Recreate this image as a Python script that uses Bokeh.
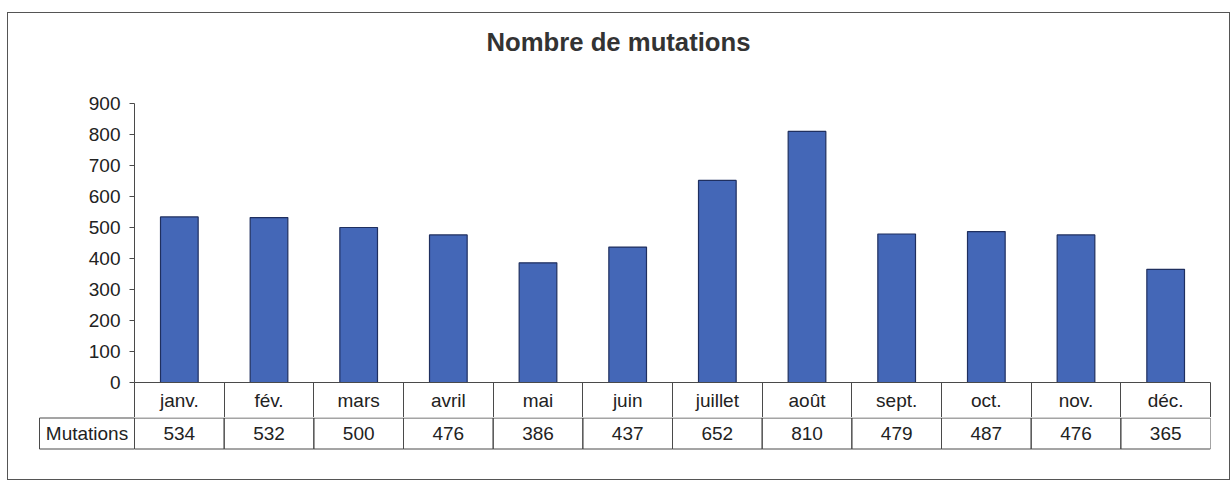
from bokeh.plotting import figure
from bokeh.layouts import column
from bokeh.models import Range1d, FixedTicker, ColumnDataSource
from bokeh.core.properties import value
from bokeh.embed import file_html
from bokeh.resources import INLINE

# ---- data ----
title_text = "Nombre de mutations"
months = ["janv.", "fév.", "mars", "avril", "mai", "juin",
          "juillet", "août", "sept.", "oct.", "nov.", "déc."]
mutations = [534, 532, 500, 476, 386, 437, 652, 810, 479, 487, 476, 365]
series_name = "Mutations"
y_ticks = [0, 100, 200, 300, 400, 500, 600, 700, 800, 900]

# ---- layout constants (px, relative to the bordered box content) ----
FONT = "Liberation Sans"
TXT = "#222222"
LINE = "#4a4a4a"
W = 1221
TITLE_H = 80
P1_TOP, FRAME_H, CAT_ROW = 10, 279, 35
VAL_ROW = 31
P2_H = 62
FRAME_L, FRAME_R = 126, 1202
HEADER_L = 31

n = len(months)
idx = list(range(n))
ppu = (FRAME_R - FRAME_L) / n

# ---- bars ----
p1 = figure(width=W, height=P1_TOP + FRAME_H + CAT_ROW,
            x_range=Range1d(-0.5, n - 0.5), y_range=Range1d(y_ticks[0], y_ticks[-1]),
            toolbar_location=None, output_backend="svg",
            min_border_left=FRAME_L, min_border_right=W - FRAME_R,
            min_border_top=P1_TOP, min_border_bottom=CAT_ROW, outline_line_color=None)
p1.grid.visible = False
src = ColumnDataSource(dict(x=idx, top=mutations, month=months))
p1.vbar(x="x", top="top", width=0.42, source=src, fill_color="#4467B7",
        line_color="#1F2F5F", line_width=1.2)

ya = p1.yaxis[0]
ya.ticker = FixedTicker(ticks=y_ticks, minor_ticks=[])
ya.major_tick_out = 5
ya.major_tick_in = 0
ya.minor_tick_out = 0
ya.minor_tick_in = 0
ya.axis_line_color = LINE
ya.major_tick_line_color = LINE
ya.major_label_text_font = FONT
ya.major_label_text_font_size = "19px"
ya.major_label_text_color = TXT
ya.major_label_standoff = 9

xa = p1.xaxis[0]
xa.ticker = FixedTicker(ticks=idx, minor_ticks=[i - 0.5 for i in range(n + 1)])
xa.major_label_overrides = {i: m for i, m in zip(idx, months)}
xa.major_tick_out = 0
xa.major_tick_in = 0
xa.minor_tick_out = CAT_ROW
xa.minor_tick_in = 0
xa.minor_tick_line_color = LINE
xa.axis_line_color = LINE
xa.major_label_text_font = FONT
xa.major_label_text_font_size = "19px"
xa.major_label_text_color = TXT
xa.major_label_standoff = -28

# ---- title ----
p0 = figure(width=W, height=TITLE_H, x_range=p1.x_range, y_range=Range1d(0, 1),
            x_axis_location=None, y_axis_location=None, toolbar_location=None,
            output_backend="svg", min_border=0, outline_line_color=None)
p0.grid.visible = False
title_x = (618 - 8 - FRAME_L) / ppu - 0.5
p0.text(x=[title_x], y=[0.65], text=[title_text], text_font=value(FONT),
        text_font_style="bold", text_font_size="25.7px", text_color="#333333",
        text_align="center", text_baseline="middle")

# ---- data table row ----
y1 = 0.5 + 0.5 / VAL_ROW
y0 = y1 - P2_H / VAL_ROW
p2 = figure(width=W, height=P2_H, x_range=p1.x_range, y_range=Range1d(y0, y1),
            x_axis_location=None, y_axis_location=None, toolbar_location=None,
            output_backend="svg", min_border_left=FRAME_L, min_border_right=W - FRAME_R,
            min_border_top=0, min_border_bottom=0, outline_line_color=None)
p2.grid.visible = False
hdr_w = (FRAME_L - HEADER_L) / ppu
hdr_c = -0.5 - hdr_w / 2
p2.rect(x=idx, y=0, width=1, height=1, fill_color=None, line_color=LINE, line_width=1)
p2.text(x=idx, y=0.0, text=[str(v) for v in mutations], text_font=value(FONT),
        text_font_size="19px", text_color=TXT, text_align="center", text_baseline="middle")
p2.rect(x=[hdr_c], y=0, width=hdr_w, height=1, fill_color=None, line_color=LINE,
        line_width=1, level="overlay")
p2.text(x=[hdr_c], y=[0.0], text=[series_name], text_font=value(FONT),
        text_font_size="19px", text_color=TXT, text_align="center", text_baseline="middle",
        level="overlay")

layout = column(p0, p1, p2, spacing=0,
                styles={"border": "1px solid #555555", "margin-left": "7px", "margin-top": "12px"})

open("out.html", "w").write(file_html(layout, INLINE))
